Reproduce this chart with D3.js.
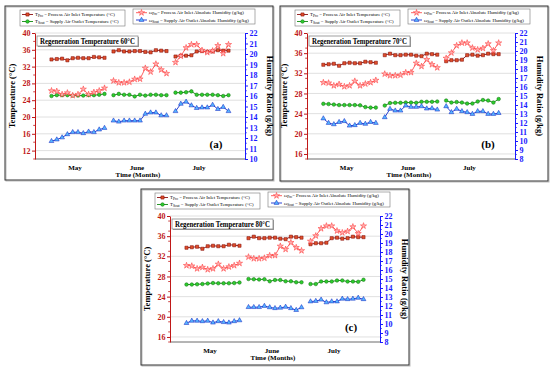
<!DOCTYPE html>
<html><head><meta charset="utf-8">
<script src="https://cdn.jsdelivr.net/npm/d3@7"></script>
<style>
body{margin:0;background:#fff;}
svg{display:block;font-family:"Liberation Serif","Times New Roman",serif;}
</style>
</head><body>
<svg id="chart" width="550" height="371"></svg>
<script>
// ---------- DATA ----------
const months = ["May", "June", "July"];
// Process air inlet (shared by all three panels)
const tPro = [
  [33.7, 33.8, 33.9, 33.5, 34.0, 34.1, 34.0, 34.0, 34.3, 34.2, 34.1],
  [35.6, 35.9, 35.6, 35.6, 35.7, 35.7, 35.5, 35.4, 35.9, 35.8, 35.7],
  [34.4, 34.6, 34.6, 34.7, 35.6, 35.7, 35.5, 35.6, 35.9, 35.8, 35.8]
];
const wPro = [
  [16.5, 16.45, 16.15, 16.3, 16.05, 16.15, 16.65, 16.15, 16.35, 16.5, 16.75],
  [17.45, 17.27, 17.27, 17.33, 17.6, 17.62, 18.65, 18.3, 19.05, 18.5, 18.15],
  [19.2, 19.8, 20.6, 20.9, 20.9, 20.35, 20.15, 20.3, 20.8, 20.05, 20.9]
];
// Supply air outlet, regeneration 60 °C
const tSout60 = [
  [25.0, 25.2, 25.2, 25.2, 25.1, 25.1, 25.1, 25.2, 25.2, 25.3, 25.5],
  [25.2, 25.5, 25.3, 25.3, 24.9, 25.3, 25.1, 25.3, 25.3, 25.2, 25.2],
  [25.8, 25.8, 25.9, 26.1, 25.3, 25.3, 25.3, 25.3, 25.2, 25.0, 25.2]
];
const wSout60 = [
  [11.7, 11.85, 12.05, 12.35, 12.55, 12.55, 12.45, 12.6, 12.55, 12.8, 12.95],
  [13.65, 13.55, 13.65, 13.65, 13.65, 13.65, 14.3, 14.42, 14.42, 14.15, 14.15],
  [14.55, 15.25, 15.45, 15.1, 14.85, 14.9, 14.9, 15.15, 14.75, 14.95, 14.55]
];
// Supply air outlet, regeneration 70 °C
const tSout70 = [
  [25.95, 25.9, 25.8, 25.7, 25.7, 25.7, 25.7, 25.65, 25.3, 25.2, 25.2],
  [25.6, 26.1, 26.15, 26.15, 26.2, 26.2, 26.15, 26.35, 26.35, 26.35, 26.4],
  [26.6, 26.2, 26.3, 26.2, 26.0, 26.0, 26.4, 26.7, 26.6, 26.2, 26.9]
];
const wSout70 = [
  [12.5, 12.0, 11.85, 12.1, 12.2, 11.7, 11.75, 12.0, 11.9, 12.1, 12.0],
  [12.63, 13.56, 13.37, 13.37, 13.93, 13.78, 13.78, 13.85, 13.6, 13.63, 13.48],
  [13.85, 13.19, 13.56, 13.3, 13.19, 13.0, 13.3, 13.3, 13.0, 13.0, 13.1]
];
// Supply air outlet, regeneration 80 °C
const tSout80 = [
  [26.4, 26.4, 26.45, 26.5, 26.6, 26.7, 26.65, 26.65, 26.65, 26.7, 26.8],
  [27.5, 27.45, 27.4, 27.45, 27.05, 27.3, 27.3, 27.05, 27.05, 26.85, 26.85],
  [26.5, 26.5, 27.0, 27.0, 27.0, 27.2, 27.2, 27.0, 27.0, 26.95, 27.35]
];
const wSout80 = [
  [10.1, 10.35, 10.35, 10.3, 10.35, 10.15, 10.3, 10.2, 10.15, 10.3, 10.4],
  [11.87, 11.87, 11.87, 12.0, 11.85, 11.75, 11.8, 11.9, 11.75, 11.55, 11.85],
  [12.5, 12.55, 12.7, 12.4, 12.5, 12.5, 12.8, 12.75, 12.8, 12.9, 12.75]
];
// Tick labels
const tempTicksA = [12, 16, 20, 24, 28, 32, 36, 40];
const humTicksA = [10, 11, 12, 13, 14, 15, 16, 17, 18, 19, 20, 21, 22];
const tempTicksBC = [16, 20, 24, 28, 32, 36, 40];
const humTicksBC = [8, 9, 10, 11, 12, 13, 14, 15, 16, 17, 18, 19, 20, 21, 22];
const regenTitles = ["Regeneration Temperature 60°C", "Regeneration Temperature 70°C", "Regeneration Temperature 80°C"];
const panelLabels = ["(a)", "(b)", "(c)"];

// ---------- STYLES ----------
const C = {
  tPro:  {line: "#8b1010", fill: "#e0502a", stroke: "#7a0000", sym: d3.symbolSquare, size: 10},
  tSout: {line: "#0e8a0e", fill: "#2ecc2e", stroke: "#0a6a0a", sym: d3.symbolCircle, size: 10},
  wPro:  {line: "#ff5050", fill: "#ffb0b0", stroke: "#ff3030", sym: d3.symbolStar, size: 12},
  wSout: {line: "#1530d0", fill: "#55b5ff", stroke: "#1020c0", sym: d3.symbolTriangle, size: 10}
};
const leftCol = "#c01818", rightCol = "#1a1aff";

const panels = [
  {ox: 0, oy: 0, frame: [5, 6, 268, 174], plot: {l: 35, r: 245, t: 33, b: 159},
   tDom: [10, 40], hDom: [10, 22], tTicks: tempTicksA, hTicks: humTicksA,
   tSout: tSout60, wSout: wSout60, idx: 0},
  {ox: 275, oy: 0, frame: [5, 6, 268, 175], plot: {l: 32, r: 240, t: 33, b: 159},
   tDom: [15, 40], hDom: [8, 22], tTicks: tempTicksBC, hTicks: humTicksBC,
   tSout: tSout70, wSout: wSout70, idx: 1},
  {ox: 135, oy: 185, frame: [6, 4, 268, 176], plot: {l: 35, r: 245, t: 31, b: 157},
   tDom: [15, 40], hDom: [8, 22], tTicks: tempTicksBC, hTicks: humTicksBC,
   tSout: tSout80, wSout: wSout80, idx: 2}
];

const svg = d3.select("#chart");
svg.append("rect").attr("width", 550).attr("height", 371).attr("fill", "#fff");

function legendText(sel, sym, sub, rest) {
  sel.append("tspan").text(sym);
  sel.append("tspan").attr("font-size", "3.6px").attr("dy", 1).text(sub);
  sel.append("tspan").attr("dy", -1).text(rest);
}

panels.forEach(p => {
  const g = svg.append("g").attr("transform", `translate(${p.ox},${p.oy})`);
  const P = p.plot;
  // frame
  g.append("rect").attr("x", p.frame[0] + 1).attr("y", p.frame[1] + 1)
    .attr("width", p.frame[2]).attr("height", p.frame[3]).attr("fill", "none").attr("stroke", "#bbb");
  g.append("rect").attr("x", p.frame[0]).attr("y", p.frame[1])
    .attr("width", p.frame[2]).attr("height", p.frame[3]).attr("fill", "none").attr("stroke", "#333").attr("stroke-width", 1);

  const xb = d3.scaleBand().domain(months).range([P.l, P.r]).paddingInner(0.145).paddingOuter(0.266);
  const xi = d3.scaleLinear().domain([0, 10]).range([0, xb.bandwidth()]);
  const yT = d3.scaleLinear().domain(p.tDom).range([P.b, P.t]);
  const yH = d3.scaleLinear().domain(p.hDom).range([P.b, P.t]);

  // gridlines
  g.append("g").selectAll("line").data(p.tTicks).join("line")
    .attr("x1", P.l).attr("x2", P.r).attr("y1", d => yT(d)).attr("y2", d => yT(d))
    .attr("stroke", "#d8d8d8").attr("stroke-width", 0.8);
  // bottom line
  g.append("line").attr("x1", P.l).attr("x2", P.r).attr("y1", P.b).attr("y2", P.b)
    .attr("stroke", "#444").attr("stroke-width", 0.8);

  // left axis
  const minorT = d3.range(p.tDom[0], p.tDom[1] + 0.01, 2).filter(v => !p.tTicks.includes(v));
  const la = g.append("g").attr("transform", `translate(${P.l},0)`)
    .call(d3.axisLeft(yT).tickValues(p.tTicks).tickSize(3).tickSizeOuter(0).tickFormat(d3.format("d")));
  la.select(".domain").attr("stroke", leftCol).attr("stroke-width", 1);
  la.selectAll(".tick line").attr("stroke", leftCol);
  la.selectAll(".tick text").attr("fill", leftCol).attr("font-size", "8px").attr("font-weight", "bold")
    .attr("font-family", "Liberation Serif, serif").attr("x", -4.5);
  g.append("g").selectAll("line").data(minorT).join("line")
    .attr("x1", P.l - 1.8).attr("x2", P.l).attr("y1", d => yT(d)).attr("y2", d => yT(d))
    .attr("stroke", leftCol).attr("stroke-width", 0.8);

  // right axis
  const minorH = d3.range(p.hDom[0] + 0.5, p.hDom[1], 1);
  const ra = g.append("g").attr("transform", `translate(${P.r},0)`)
    .call(d3.axisRight(yH).tickValues(p.hTicks).tickSize(3).tickSizeOuter(0).tickFormat(d3.format("d")));
  ra.select(".domain").attr("stroke", rightCol).attr("stroke-width", 1);
  ra.selectAll(".tick line").attr("stroke", rightCol);
  ra.selectAll(".tick text").attr("fill", rightCol).attr("font-size", "8px").attr("font-weight", "bold")
    .attr("font-family", "Liberation Serif, serif").attr("x", 4.5);
  g.append("g").selectAll("line").data(minorH).join("line")
    .attr("x1", P.r).attr("x2", P.r + 1.8).attr("y1", d => yH(d)).attr("y2", d => yH(d))
    .attr("stroke", rightCol).attr("stroke-width", 0.8);

  // series
  function series(data, y, st) {
    data.forEach((arr, m) => {
      const pts = arr.map((v, i) => [xb(months[m]) + xi(i), y(v)]);
      g.append("path").attr("d", d3.line()(pts)).attr("fill", "none")
        .attr("stroke", st.line).attr("stroke-width", 0.9);
      g.append("g").selectAll("path").data(pts).join("path")
        .attr("transform", d => `translate(${d[0]},${d[1]})`)
        .attr("d", d3.symbol().type(st.sym).size(st.size))
        .attr("fill", st.fill).attr("stroke", st.stroke).attr("stroke-width", 0.5);
    });
  }
  series(tPro, yT, C.tPro);
  series(p.tSout, yT, C.tSout);
  series(wPro, yH, C.wPro);
  series(p.wSout, yH, C.wSout);

  // month labels
  g.append("g").selectAll("text").data(months).join("text")
    .attr("x", d => xb(d) + xb.bandwidth() / 2 - 3).attr("y", P.b + 10.5)
    .attr("text-anchor", "middle").attr("font-size", "7px").attr("font-weight", "bold").text(d => d);
  g.append("text").attr("x", (P.l + P.r) / 2 - 2).attr("y", P.b + 18)
    .attr("text-anchor", "middle").attr("font-size", "7px").attr("font-weight", "bold").text("Time (Months)");

  // axis titles
  g.append("text").attr("transform", `translate(${P.l - 20},${(P.t + P.b) / 2}) rotate(-90)`)
    .attr("text-anchor", "middle").attr("font-size", "8.5px").attr("font-weight", "bold").text("Temperature (°C)");
  g.append("text").attr("transform", `translate(${P.r + 22},${(P.t + P.b) / 2}) rotate(90)`)
    .attr("text-anchor", "middle").attr("font-size", "8.5px").attr("font-weight", "bold").text("Humidity Ratio (g/kg)");

  // title box
  const tx = P.l + 2, ty = P.t + 3;
  g.append("rect").attr("x", tx + 1).attr("y", ty + 1).attr("width", 101).attr("height", 10).attr("fill", "#999");
  g.append("rect").attr("x", tx).attr("y", ty).attr("width", 101).attr("height", 10)
    .attr("fill", "#fff").attr("stroke", "#888").attr("stroke-width", 0.8);
  g.append("text").attr("x", tx + 3).attr("y", ty + 7.6)
    .attr("textLength", 95).attr("lengthAdjust", "spacingAndGlyphs")
    .attr("font-size", "7.8px").attr("font-weight", "bold").text(regenTitles[p.idx]);

  // panel label
  g.append("text").attr("x", P.l + 181).attr("y", P.b - 11).attr("text-anchor", "middle")
    .attr("font-size", "11px").attr("font-weight", "bold").text(panelLabels[p.idx]);

  // legends
  const ly = P.t - 23;
  g.append("rect").attr("x", 20).attr("y", ly).attr("width", 105).attr("height", 16)
    .attr("fill", "#fff").attr("stroke", "#777").attr("stroke-width", 0.6);
  g.append("rect").attr("x", 133).attr("y", ly - 1).attr("width", 122).attr("height", 15)
    .attr("fill", "#fff").attr("stroke", "#777").attr("stroke-width", 0.6);
  const items = [
    {st: C.tPro, x: 22, y: ly + 4.5, s: "T", sub: "Pro", rest: " = Process Air Inlet Temperature (°C)"},
    {st: C.tSout, x: 22, y: ly + 11.5, s: "T", sub: "Sout", rest: " = Supply Air Outlet Temperature (°C)"},
    {st: C.wPro, x: 136, y: ly + 2.7, s: "ω", sub: "Pro", rest: "= Process Air Inlet Absolute Humidity (g/kg)"},
    {st: C.wSout, x: 136, y: ly + 10, s: "ω", sub: "Sout", rest: " = Supply Air Outlet Absolute Humidity (g/kg)"}
  ];
  items.forEach(it => {
    g.append("line").attr("x1", it.x).attr("x2", it.x + 11).attr("y1", it.y).attr("y2", it.y)
      .attr("stroke", it.st.line).attr("stroke-width", 0.9);
    g.append("path").attr("transform", `translate(${it.x + 5.5},${it.y})`)
      .attr("d", d3.symbol().type(it.st.sym).size(it.st.size))
      .attr("fill", it.st.fill).attr("stroke", it.st.stroke).attr("stroke-width", 0.5);
    const t = g.append("text").attr("x", it.x + 13).attr("y", it.y + 1.6).attr("font-size", "4.8px");
    legendText(t, it.s, it.sub, it.rest);
  });
});
</script>
</body></html>
